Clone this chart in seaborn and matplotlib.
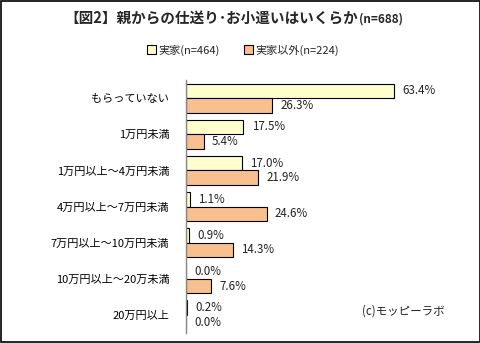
import matplotlib
matplotlib.use("Agg")
import matplotlib.pyplot as plt
import seaborn as sns
import pandas as pd
from matplotlib.patches import Rectangle, Patch

categories = ["もらっていない", "1万円未満", "1万円以上～4万円未満", "4万円以上～7万円未満",
              "7万円以上～10万円未満", "10万円以上～20万未満", "20万円以上"]
series_names = ["実家(n=464)", "実家以外(n=224)"]
jikka = [63.4, 17.5, 17.0, 1.1, 0.9, 0.0, 0.2]
igai = [26.3, 5.4, 21.9, 24.6, 14.3, 7.6, 0.0]
colors = ["#FFFFCC", "#F9C08F"]

sns.set_theme(style="white")
plt.rcParams['font.family'] = ['Noto Sans CJK JP', 'DejaVu Sans']

df = pd.DataFrame({
    "cat": categories * 2,
    "series": [series_names[0]] * len(categories) + [series_names[1]] * len(categories),
    "val": jikka + igai,
})

fig = plt.figure(figsize=(4.81, 3.43), dpi=100)
fig.patches.append(Rectangle((0.002, 0.003), 0.995, 0.994, transform=fig.transFigure,
                             fill=False, edgecolor="black", linewidth=1.2))
ax = fig.add_axes([186/481, 1 - 333/343, 262/481, 253/343])
sns.barplot(data=df, x="val", y="cat", hue="series", orient="h", palette=colors,
            saturation=1, edgecolor="black", linewidth=0.8, width=0.8, ax=ax, legend=False)

ax.set_xlim(0, 80)
ax.set_xlabel("")
ax.set_ylabel("")
ax.set_xticks([])
for s in ["top", "right", "bottom"]:
    ax.spines[s].set_visible(False)
ax.spines["left"].set_color("#888888")
ax.spines["left"].set_linewidth(1)
ax.tick_params(axis="y", length=0, pad=12, labelsize=8)
for t in ax.get_yticklabels():
    t.set_color("black")

for cont in ax.containers:
    for bar in cont:
        w = bar.get_width()
        yc = bar.get_y() + bar.get_height() / 2
        ax.annotate(f"{w:.1f}%", (w, yc), xytext=(6, 0), textcoords="offset points",
                    va="center", ha="left", fontsize=8.3, color="#222222")

fig.text(358/481, 1 - 18/343, "【図2】親からの仕送り･お小遣いはいくらか", ha="right", va="center",
         fontsize=10.5, fontweight="bold")
fig.text(359/481, 1 - 19/343, "(n=688)", ha="left", va="center", fontsize=8.5, fontweight="bold")

handles = [Patch(facecolor=c, edgecolor="black", linewidth=0.8) for c in colors]
fig.legend(handles, series_names, loc="center", bbox_to_anchor=(0.505, 1 - 50/343), ncol=2,
           frameon=False, fontsize=8, handlelength=0.8, handleheight=0.8,
           handletextpad=0.2, columnspacing=2.2)

fig.text(403/481, 1 - 311/343, "(c)モッピーラボ", ha="center", va="center", fontsize=8.3)

fig.savefig("out.png", dpi=100)
